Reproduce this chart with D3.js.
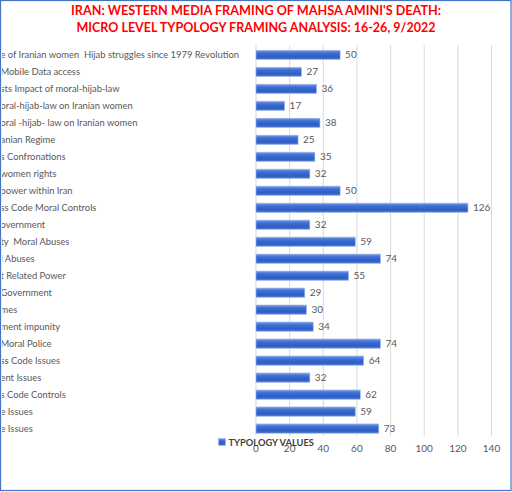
<!DOCTYPE html>
<html>
<head>
<meta charset="utf-8">
<style>
  body { margin: 0; background: #fff; }
  text { font-family: Lato, "Open Sans", sans-serif; white-space: pre; }
</style>
</head>
<body>
<div id="chart"></div>
<script src="https://cdn.jsdelivr.net/npm/d3@7"></script>
<script>
// labels are cut off on the left in the original, kept as they show
const categories = [
  "e of Iranian women  Hijab struggles since 1979 Revolution",
  "Mobile Data access",
  "sts Impact of moral-hijab-law",
  "oral-hijab-law on Iranian women",
  "oral -hijab- law on Iranian women",
  "anian Regime",
  "s Confronations",
  "women rights",
  "power within Iran",
  "ss Code Moral Controls",
  "overnment",
  "ty  Moral Abuses",
  "l Abuses",
  "t Related Power",
  "Government",
  "mes",
  "ment impunity",
  "Moral Police",
  "ss Code Issues",
  "ent Issues",
  "s Code Controls",
  "e Issues",
  "e Issues"
];
const values = [50, 27, 36, 17, 38, 25, 35, 32, 50, 126, 32, 59, 74, 55, 29, 30, 34, 74, 64, 32, 62, 59, 73];
const xTicks = [0, 20, 40, 60, 80, 100, 120, 140];
const titleLines = [
  "IRAN: WESTERN MEDIA FRAMING OF MAHSA AMINI'S DEATH:",
  "MICRO LEVEL TYPOLOGY FRAMING ANALYSIS: 16-26, 9/2022"
];
const titleWidths = [370, 359];
const seriesName = "TYPOLOGY VALUES";

const width = 512, height = 492;
const svg = d3.select('#chart').append('svg')
  .attr('width', width)
  .attr('height', height);

const defs = svg.append('defs');
const grad = defs.append('linearGradient')
  .attr('id', 'barGrad')
  .attr('x1', 0).attr('y1', 0).attr('x2', 0).attr('y2', 1);
grad.append('stop').attr('offset', '0%').attr('stop-color', '#7a9ee6');
grad.append('stop').attr('offset', '30%').attr('stop-color', '#3d6fd6');
grad.append('stop').attr('offset', '75%').attr('stop-color', '#2d5cc2');
grad.append('stop').attr('offset', '100%').attr('stop-color', '#5a84d6');

defs.append('clipPath').attr('id', 'frame')
  .append('rect').attr('x', 2).attr('y', 0).attr('width', width - 4).attr('height', height);

const x = d3.scaleLinear().domain([0, 140]).range([256, 491.5]);
const y = d3.scaleBand()
  .domain(d3.range(categories.length))
  .range([46.5, 437])
  .paddingInner(0.45)
  .paddingOuter(0.22);

// gridlines
svg.append('g')
  .selectAll('line')
  .data(xTicks)
  .enter()
  .append('line')
  .attr('x1', d => x(d)).attr('x2', d => x(d))
  .attr('y1', 45).attr('y2', 436)
  .attr('stroke', '#d9d9d9')
  .attr('stroke-width', 1);

// bars
svg.append('g')
  .selectAll('rect')
  .data(values)
  .enter()
  .append('rect')
  .attr('x', x(0))
  .attr('y', (d, i) => y(i))
  .attr('width', d => x(d) - x(0))
  .attr('height', y.bandwidth())
  .attr('fill', 'url(#barGrad)')
  .attr('stroke', '#9fb8ea')
  .attr('stroke-width', 0.6);

// value labels
svg.append('g')
  .selectAll('text')
  .data(values)
  .enter()
  .append('text')
  .attr('x', d => x(d) + 5)
  .attr('y', (d, i) => y(i) + y.bandwidth() / 2)
  .attr('dy', '0.35em')
  .attr('font-size', 10)
  .attr('fill', '#595959')
  .text(d => d);

// category labels (left aligned, start hidden past the frame)
svg.append('g')
  .attr('clip-path', 'url(#frame)')
  .selectAll('text')
  .data(categories)
  .enter()
  .append('text')
  .attr('x', 0.5)
  .attr('y', (d, i) => y(i) + y.bandwidth() / 2)
  .attr('dy', '0.35em')
  .attr('font-size', 9.4)
  .attr('fill', '#595959')
  .text(d => d);

// x axis tick labels
svg.append('g')
  .selectAll('text')
  .data(xTicks)
  .enter()
  .append('text')
  .attr('x', d => x(d))
  .attr('y', 452)
  .attr('text-anchor', 'middle')
  .attr('font-size', 10)
  .attr('fill', '#595959')
  .text(d => d);

// legend
svg.append('rect')
  .attr('x', 218.5).attr('y', 438.5)
  .attr('width', 7).attr('height', 7)
  .attr('fill', 'url(#barGrad)')
  .attr('stroke', '#9fb8ea')
  .attr('stroke-width', 0.6);
svg.append('text')
  .attr('x', 228.5)
  .attr('y', 446)
  .attr('font-size', 9.3)
  .attr('font-weight', 'bold')
  .attr('fill', '#404040')
  .text(seriesName);

// title
svg.append('g')
  .selectAll('text')
  .data(titleLines)
  .enter()
  .append('text')
  .attr('x', 256)
  .attr('y', (d, i) => 15 + i * 17)
  .attr('text-anchor', 'middle')
  .attr('font-size', 13.5)
  .attr('font-weight', 'bold')
  .attr('fill', '#ff0000')
  .attr('textLength', (d, i) => titleWidths[i])
  .attr('lengthAdjust', 'spacingAndGlyphs')
  .text(d => d);

// outer border
svg.append('rect')
  .attr('x', 0.5).attr('y', 0.5)
  .attr('width', width - 1.5).attr('height', height - 2)
  .attr('fill', 'none')
  .attr('stroke', '#4472c4')
  .attr('stroke-width', 1.2);
</script>
</body>
</html>
